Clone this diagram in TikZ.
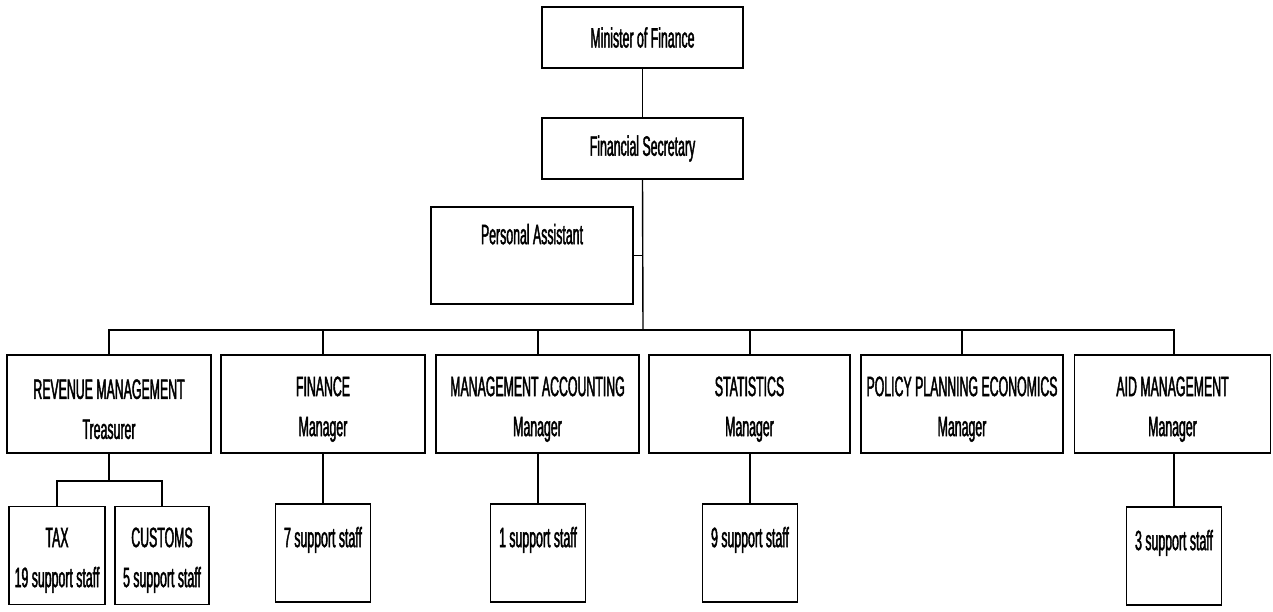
\documentclass[tikz,border=0pt]{standalone}
\usepackage{fontspec}
\newfontfamily\nar[FakeStretch=0.44,FakeBold=1.5]{Liberation Sans}
\newcommand{\upr}{\rule{0pt}{30pt}}
\newcommand{\upt}{\rule{0pt}{29pt}}
\begin{document}
\begin{tikzpicture}[x=1pt,y=-1pt,
  every node/.style={inner sep=1pt},
  box/.style={draw, line width=1.4pt, align=center,
    font=\nar\fontsize{28}{40}\selectfont},
  topbox/.style={box, minimum width=201pt, minimum height=61pt},
  rowbox/.style={box, minimum width=203pt, minimum height=98pt},
  staffbox/.style={box, minimum width=95pt, minimum height=98pt},
  link/.style={line width=1.4pt}]
\useasboundingbox (0,0) rectangle (1273,611);
% top
\node[topbox] (min) at (642.5,37.5) {Minister of Finance};
\node[topbox] (fs) at (642.5,148.5) {Financial Secretary};
\node[box, minimum width=202pt, minimum height=97pt] (pa) at (532,255.5) {Personal Assistant\\[-9pt]\strut};
% row of departments
\node[rowbox, minimum width=204pt] (rev) at (109,404) {\upr REVENUE MANAGEMENT\\Treasurer};
\node[rowbox, minimum width=204pt] (fin) at (323,404) {\upr FINANCE\\Manager};
\node[rowbox] (ma) at (537.5,404) {\upr MANAGEMENT ACCOUNTING\\Manager};
\node[rowbox, minimum width=201pt] (stat) at (749.5,404) {\upr STATISTICS\\Manager};
\node[rowbox, minimum width=202pt] (ppe) at (962,404) {\upr POLICY PLANNING ECONOMICS\\Manager};
\node[rowbox, minimum width=196pt] (aid) at (1172.5,404) {\upr AID MANAGEMENT\\Manager};
% support staff
\node[staffbox, minimum width=96pt] (tax) at (57,555.5) {\upt TAX\\19 support staff};
\node[staffbox, minimum width=94pt] (cus) at (162,555.5) {\upt CUSTOMS\\5 support staff};
\node[staffbox] (s7) at (323,553) {7 support staff\\[-20pt]\strut};
\node[staffbox] (s1) at (538,553) {1 support staff\\[-20pt]\strut};
\node[staffbox] (s9) at (750,553) {9 support staff\\[-20pt]\strut};
\node[staffbox] (s3) at (1174,556) {3 support staff\\[-20pt]\strut};
% connectors
\coordinate (bus) at (643,330);
\coordinate (rsub) at (109,481);
\draw[link] (min.south) -- (fs.south |- min.south) -- (fs.north);
\draw[link] (fs.south) -- (bus);
\draw[link] (pa.east) -- (pa.east -| bus);
\draw[link] (rev.north) |- (bus) -| (s3.north |- aid.north);
\draw[link] (s7.north |- fin.north) -- (s7.north |- bus);
\draw[link] (s1.north |- ma.north) -- (s1.north |- bus);
\draw[link] (s9.north |- stat.north) -- (s9.north |- bus);
\draw[link] (ppe.north) -- (ppe.north |- bus);
\draw[link] (rev.south) -- (rsub);
\draw[link] (tax.north) |- (rsub) -| (cus.north);
\draw[link] (s7.north |- fin.south) -- (s7.north);
\draw[link] (s1.north |- ma.south) -- (s1.north);
\draw[link] (s9.north |- stat.south) -- (s9.north);
\draw[link] (s3.north |- aid.south) -- (s3.north);
\end{tikzpicture}
\end{document}
